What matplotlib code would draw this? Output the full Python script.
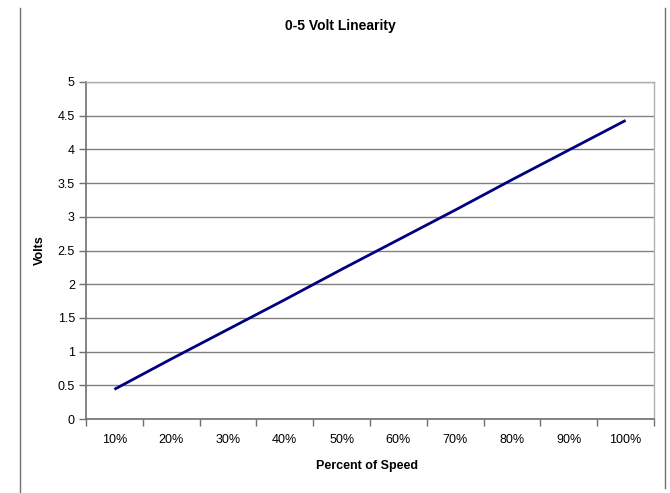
import matplotlib
matplotlib.use("Agg")
import matplotlib.pyplot as plt
from matplotlib.lines import Line2D

categories = ["10%", "20%", "30%", "40%", "50%", "60%", "70%", "80%", "90%", "100%"]
volts = [0.44, 0.89, 1.33, 1.77, 2.22, 2.66, 3.10, 3.55, 3.99, 4.43]
yticks = [0, 0.5, 1, 1.5, 2, 2.5, 3, 3.5, 4, 4.5, 5]
ytick_labels = ["0", "0.5", "1", "1.5", "2", "2.5", "3", "3.5", "4", "4.5", "5"]

plt.rcParams['font.family'] = ['Liberation Sans', 'DejaVu Sans']

W, H = 670, 493
fig = plt.figure(figsize=(W / 100, H / 100), dpi=100)
ax = fig.add_axes([86 / W, 1 - 419 / H, (654 - 86) / W, (419 - 82) / H])

x = list(range(len(categories)))
ax.plot(x, volts, color="#000080", linewidth=2.0, solid_capstyle="butt")

ax.set_xlim(-0.5, len(categories) - 0.5)
ax.set_ylim(0, 5)
ax.set_yticks(yticks)
ax.set_yticklabels(ytick_labels, fontsize=9)
ax.set_xticks(x)
ax.set_xticklabels(categories, fontsize=9)
ax.set_xticks([i - 0.5 for i in range(len(categories) + 1)], minor=True)
ax.tick_params(axis="x", which="major", length=0, pad=11)
ax.tick_params(axis="x", which="minor", length=5, width=1, color="#707070", direction="out")
ax.tick_params(axis="y", length=5, width=1, color="#707070", direction="out", pad=3)

ax.grid(axis="y", color="#808080", linewidth=1)
ax.set_axisbelow(True)
for s in ["left", "bottom"]:
    ax.spines[s].set_color("#707070")
    ax.spines[s].set_linewidth(1.2)
for s in ["right", "top"]:
    ax.spines[s].set_color("#b0b0b0")
    ax.spines[s].set_linewidth(1)

fig.text(340 / W, 1 - 26 / H, "0-5 Volt Linearity", ha="center", va="center",
         fontsize=10, fontweight="bold")
fig.text(40 / W, 1 - 250 / H, "Volts", ha="center", va="center", rotation=90,
         fontsize=9, fontweight="bold")
fig.text(367 / W, 1 - 466 / H, "Percent of Speed", ha="center", va="center",
         fontsize=9, fontweight="bold")

fig.add_artist(Line2D([19.5 / W, 19.5 / W], [0, 1 - 8 / H], color="#707070", linewidth=1,
                      transform=fig.transFigure))
fig.add_artist(Line2D([665 / W, 665 / W], [1 - 488 / H, 1 - 8 / H], color="#707070",
                      linewidth=1, transform=fig.transFigure))

fig.savefig("out.png", dpi=100)
